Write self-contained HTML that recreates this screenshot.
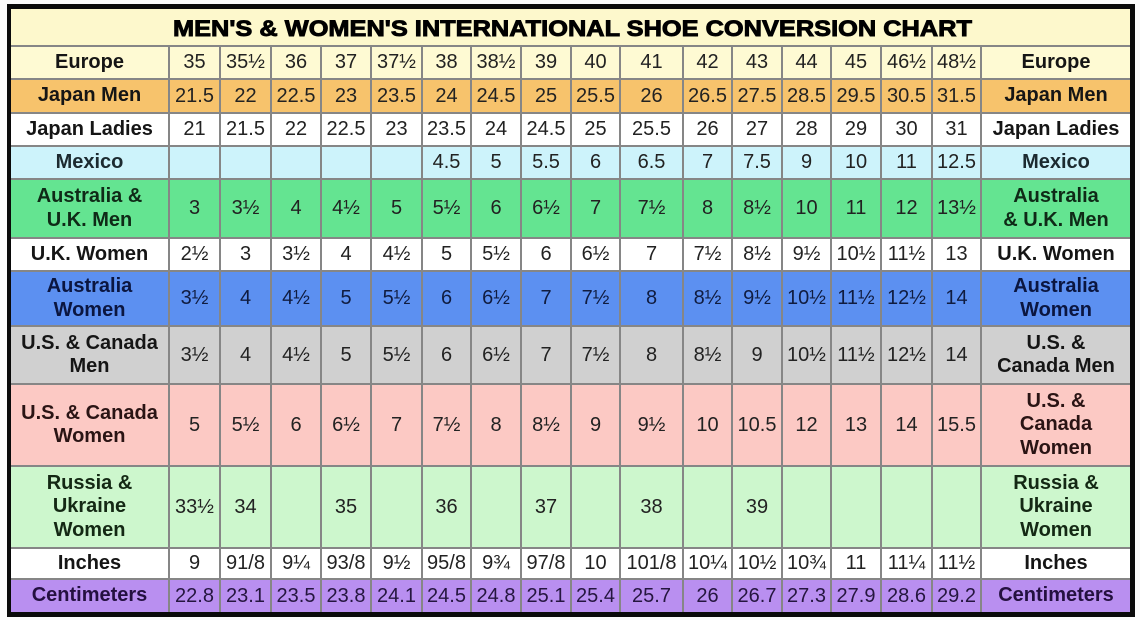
<!DOCTYPE html>
<html><head><meta charset="utf-8">
<style>
html,body{margin:0;padding:0;background:#fbfbfb;}
body{width:1140px;height:620px;position:relative;overflow:hidden;font-family:"Liberation Sans",Arial,sans-serif;}
.frame{position:absolute;left:7px;top:4px;width:1128px;height:613px;background:#0a0a0a;}
.inner{position:absolute;left:11px;top:9px;width:1119px;height:603px;background:#fff;overflow:hidden;}
.title{position:absolute;left:0;top:0;width:1119px;height:36px;background:#fdf8cc;}
.r{position:absolute;left:0;width:1119px;display:flex;box-sizing:border-box;border-top:2px solid #868686;}
.r>div{box-sizing:border-box;border-left:2px solid #868686;display:flex;align-items:center;justify-content:center;text-align:center;white-space:nowrap;font-size:20px;color:#222;}
.r>div:nth-child(1){width:157px;border-left:none;}
.r>div:nth-child(2){width:51px}
.r>div:nth-child(3){width:51px}
.r>div:nth-child(4){width:50px}
.r>div:nth-child(5){width:50px}
.r>div:nth-child(6){width:51px}
.r>div:nth-child(7){width:49px}
.r>div:nth-child(8){width:50px}
.r>div:nth-child(9){width:50px}
.r>div:nth-child(10){width:49px}
.r>div:nth-child(11){width:63px}
.r>div:nth-child(12){width:49px}
.r>div:nth-child(13){width:50px}
.r>div:nth-child(14){width:49px}
.r>div:nth-child(15){width:50px}
.r>div:nth-child(16){width:51px}
.r>div:nth-child(17){width:49px}
.r>div:nth-child(18){width:150px}
.r>div.l{font-weight:bold;font-size:20px;line-height:23.5px;color:#151515;white-space:normal;}
</style></head>
<body>
<div class="frame"></div>
<div class="inner">
  <div class="title"></div>
  <svg style="position:absolute;left:0;top:0" width="1119" height="40">
    <text x="162" y="27" textLength="799" lengthAdjust="spacingAndGlyphs" font-family="Liberation Sans, Arial, sans-serif" font-weight="bold" font-size="22.5" fill="#000" stroke="#000" stroke-width="0.9">MEN'S &amp; WOMEN'S INTERNATIONAL SHOE CONVERSION CHART</text>
  </svg>

  <div class="r" style="top:36px;height:33px;background:#fefad3">
    <div class="l">Europe</div><div>35</div><div>35½</div><div>36</div><div>37</div><div>37½</div><div>38</div><div>38½</div><div>39</div><div>40</div><div>41</div><div>42</div><div>43</div><div>44</div><div>45</div><div>46½</div><div>48½</div><div class="l">Europe</div>
  </div>
  <div class="r" style="top:69px;height:34px;background:#f7c36c">
    <div class="l">Japan Men</div><div>21.5</div><div>22</div><div>22.5</div><div>23</div><div>23.5</div><div>24</div><div>24.5</div><div>25</div><div>25.5</div><div>26</div><div>26.5</div><div>27.5</div><div>28.5</div><div>29.5</div><div>30.5</div><div>31.5</div><div class="l">Japan Men</div>
  </div>
  <div class="r" style="top:103px;height:33px;background:#ffffff">
    <div class="l">Japan Ladies</div><div>21</div><div>21.5</div><div>22</div><div>22.5</div><div>23</div><div>23.5</div><div>24</div><div>24.5</div><div>25</div><div>25.5</div><div>26</div><div>27</div><div>28</div><div>29</div><div>30</div><div>31</div><div class="l">Japan Ladies</div>
  </div>
  <div class="r" style="top:136px;height:33px;background:#cdf3fb">
    <div class="l" style="color:#1c2a30">Mexico</div><div></div><div></div><div></div><div></div><div></div><div>4.5</div><div>5</div><div>5.5</div><div>6</div><div>6.5</div><div>7</div><div>7.5</div><div>9</div><div>10</div><div>11</div><div>12.5</div><div class="l" style="color:#1c2a30">Mexico</div>
  </div>
  <div class="r" style="top:169px;height:59px;background:#64e491">
    <div class="l" style="color:#0f2a17">Australia &amp;<br>U.K. Men</div><div>3</div><div>3½</div><div>4</div><div>4½</div><div>5</div><div>5½</div><div>6</div><div>6½</div><div>7</div><div>7½</div><div>8</div><div>8½</div><div>10</div><div>11</div><div>12</div><div>13½</div><div class="l" style="color:#0f2a17">Australia<br>&amp; U.K. Men</div>
  </div>
  <div class="r" style="top:228px;height:33px;background:#ffffff">
    <div class="l">U.K. Women</div><div>2½</div><div>3</div><div>3½</div><div>4</div><div>4½</div><div>5</div><div>5½</div><div>6</div><div>6½</div><div>7</div><div>7½</div><div>8½</div><div>9½</div><div>10½</div><div>11½</div><div>13</div><div class="l">U.K. Women</div>
  </div>
  <div class="r" style="top:261px;height:55px;background:#5c90f1">
    <div class="l" style="color:#0b1640">Australia<br>Women</div><div style="color:#101c40">3½</div><div style="color:#101c40">4</div><div style="color:#101c40">4½</div><div style="color:#101c40">5</div><div style="color:#101c40">5½</div><div style="color:#101c40">6</div><div style="color:#101c40">6½</div><div style="color:#101c40">7</div><div style="color:#101c40">7½</div><div style="color:#101c40">8</div><div style="color:#101c40">8½</div><div style="color:#101c40">9½</div><div style="color:#101c40">10½</div><div style="color:#101c40">11½</div><div style="color:#101c40">12½</div><div style="color:#101c40">14</div><div class="l" style="color:#0b1640">Australia<br>Women</div>
  </div>
  <div class="r" style="top:316px;height:58px;background:#d0d0d0">
    <div class="l">U.S. &amp; Canada<br>Men</div><div>3½</div><div>4</div><div>4½</div><div>5</div><div>5½</div><div>6</div><div>6½</div><div>7</div><div>7½</div><div>8</div><div>8½</div><div>9</div><div>10½</div><div>11½</div><div>12½</div><div>14</div><div class="l">U.S. &amp;<br>Canada Men</div>
  </div>
  <div class="r" style="top:374px;height:82px;background:#fcc9c4">
    <div class="l" style="color:#2a1414">U.S. &amp; Canada<br>Women</div><div>5</div><div>5½</div><div>6</div><div>6½</div><div>7</div><div>7½</div><div>8</div><div>8½</div><div>9</div><div>9½</div><div>10</div><div>10.5</div><div>12</div><div>13</div><div>14</div><div>15.5</div><div class="l" style="color:#2a1414">U.S. &amp;<br>Canada<br>Women</div>
  </div>
  <div class="r" style="top:456px;height:82px;background:#cdf7cd">
    <div class="l" style="color:#142814">Russia &amp;<br>Ukraine<br>Women</div><div>33½</div><div>34</div><div></div><div>35</div><div></div><div>36</div><div></div><div>37</div><div></div><div>38</div><div></div><div>39</div><div></div><div></div><div></div><div></div><div class="l" style="color:#142814">Russia &amp;<br>Ukraine<br>Women</div>
  </div>
  <div class="r" style="top:538px;height:31px;background:#ffffff">
    <div class="l">Inches</div><div>9</div><div>91/8</div><div>9¼</div><div>93/8</div><div>9½</div><div>95/8</div><div>9¾</div><div>97/8</div><div>10</div><div>101/8</div><div>10¼</div><div>10½</div><div>10¾</div><div>11</div><div>11¼</div><div>11½</div><div class="l">Inches</div>
  </div>
  <div class="r" style="top:569px;height:34px;background:#b98ff0">
    <div class="l" style="color:#241040">Centimeters</div><div style="color:#25163f">22.8</div><div style="color:#25163f">23.1</div><div style="color:#25163f">23.5</div><div style="color:#25163f">23.8</div><div style="color:#25163f">24.1</div><div style="color:#25163f">24.5</div><div style="color:#25163f">24.8</div><div style="color:#25163f">25.1</div><div style="color:#25163f">25.4</div><div style="color:#25163f">25.7</div><div style="color:#25163f">26</div><div style="color:#25163f">26.7</div><div style="color:#25163f">27.3</div><div style="color:#25163f">27.9</div><div style="color:#25163f">28.6</div><div style="color:#25163f">29.2</div><div class="l" style="color:#241040">Centimeters</div>
  </div>
</div>
</body></html>
